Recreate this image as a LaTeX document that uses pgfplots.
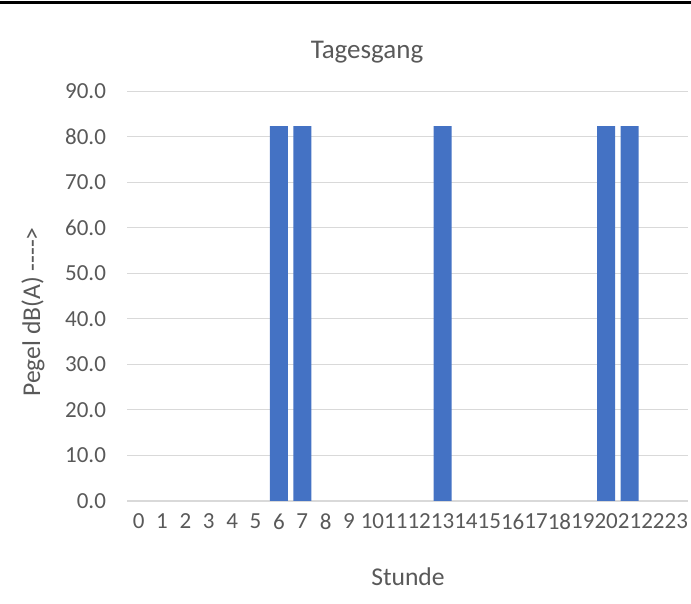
\documentclass[border=0pt]{standalone}
\usepackage{fontspec}
\setmainfont{Carlito}
\usepackage{pgfplots}
\pgfplotsset{compat=1.18}
\definecolor{barblue}{HTML}{4472C4}
\definecolor{txtgray}{HTML}{595959}
\definecolor{gridgray}{HTML}{D9D9D9}

\begin{document}
\begin{tikzpicture}
\path[use as bounding box] (0,0) rectangle (345.5pt,302pt);
\draw[line width=1.6pt] (0,300.6pt) -- (345.5pt,300.6pt);
\node[txtgray, font=\fontsize{13.5}{15}\selectfont] at (183.5pt,276pt) {Tagesgang};
\node[txtgray, font=\fontsize{12.8}{15}\selectfont, rotate=90] at (16.5pt,146pt) {Pegel dB(A) -{}-{}-{}->};
\node[txtgray, font=\fontsize{12.8}{15}\selectfont] at (204pt,13.5pt) {Stunde};
\begin{axis}[
    at={(63.5pt,51.5pt)}, anchor=south west,
    scale only axis,
    width=280.5pt, height=205pt,
    ybar, bar width=9pt,
    xmin=-0.5, xmax=23.5,
    ymin=0, ymax=90,
    xtick={0,1,...,23},
    ytick={0,10,...,90},
    ymajorgrids,
    grid style={gridgray, line width=0.5pt},
    axis x line*=bottom, axis y line*=left,
    x axis line style={gridgray, line width=0.8pt, -},
    y axis line style={draw=none},
    major tick length=0pt,
    tick label style={txtgray, font=\fontsize{11.5}{13}\selectfont},
    /pgf/number format/assume math mode=true,
    yticklabel style={/pgf/number format/.cd, fixed, fixed zerofill, precision=1},
    yticklabel shift=7pt,
    xticklabel shift=3pt,
]
% zero-valued hours are kept in the data but not drawn
\addplot[fill=barblue, draw=none, restrict y to domain=0.01:100] coordinates {
    (0,0) (1,0) (2,0) (3,0) (4,0) (5,0)
    (6,82.3) (7,82.3) (8,0) (9,0) (10,0) (11,0)
    (12,0) (13,82.3) (14,0) (15,0) (16,0) (17,0)
    (18,0) (19,0) (20,82.3) (21,82.3) (22,0) (23,0)
};
\end{axis}
\end{tikzpicture}
\end{document}
